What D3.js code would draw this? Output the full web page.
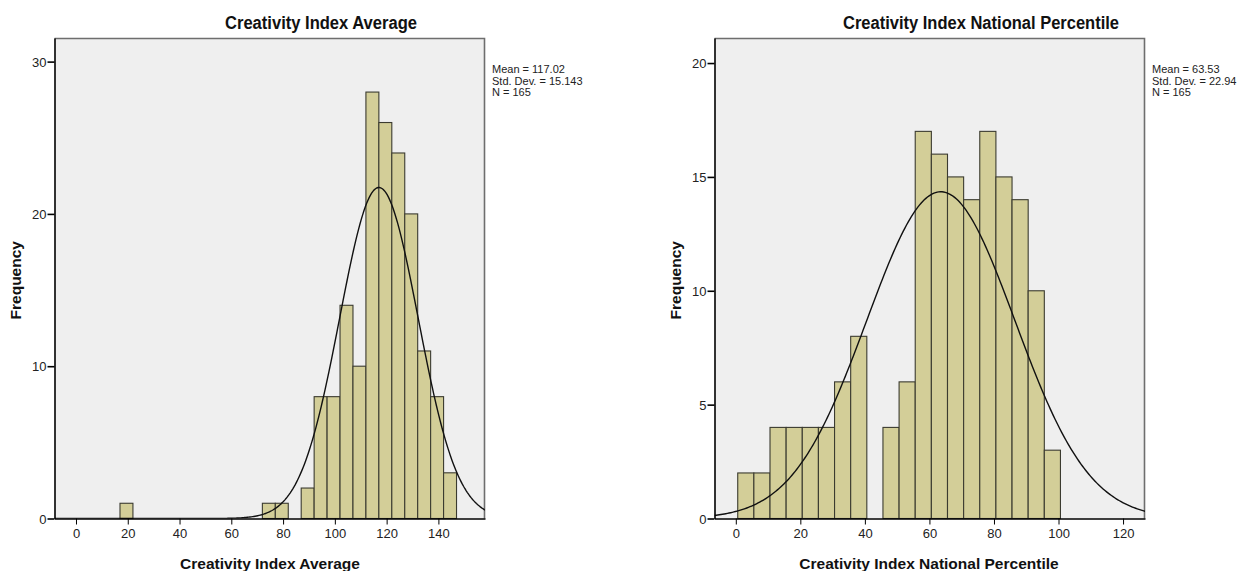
<!DOCTYPE html>
<html>
<head>
<meta charset="utf-8">
<script src="https://cdn.jsdelivr.net/npm/d3@7"></script>
<style>
  html, body { margin: 0; padding: 0; background: #fff; }
  svg { display: block; }
  .tick text { font-family: "Liberation Sans", Arial, sans-serif; font-size: 13px; fill: #222; }
  .axis path.domain { stroke: #000; }
  .axis .tick line { stroke: #000; }
  .title { font-family: "Liberation Sans", Arial, sans-serif; font-weight: bold; font-size: 18px; fill: #111; }
  .label { font-family: "Liberation Sans", Arial, sans-serif; font-weight: bold; font-size: 15.5px; fill: #111; }
  .stats { font-family: "Liberation Sans", Arial, sans-serif; font-size: 11px; fill: #222; }
</style>
</head>
<body>
<svg></svg>
<script>
// ---- data ----

// Creativity Index Average: lower edge of each bin (width 5) and its count
let avgBinLow = [17, 72, 77, 82, 87, 92, 97, 102, 107, 112, 117, 122, 127, 132, 137, 142];
let avgCounts = [1, 1, 1, 0, 2, 8, 8, 14, 10, 28, 26, 24, 20, 11, 8, 3];
let avgStats = [117.02, 15.143, 165]; // mean, sd, n
let avgXTicks = [0, 20, 40, 60, 80, 100, 120, 140];
let avgYTicks = [0, 10, 20, 30];

// Creativity Index National Percentile
let pctBinLow = [0.6, 5.6, 10.6, 15.6, 20.6, 25.6, 30.6, 35.6, 40.6, 45.6,
                 50.6, 55.6, 60.6, 65.6, 70.6, 75.6, 80.6, 85.6, 90.6, 95.6];
let pctCounts = [2, 2, 4, 4, 4, 4, 6, 8, 0, 4, 6, 17, 16, 15, 14, 17, 15, 14, 10, 3];
let pctStats = [63.53, 22.94, 165];
let pctXTicks = [0, 20, 40, 60, 80, 100, 120];
let pctYTicks = [0, 5, 10, 15, 20];

let binWidth = 5;

// ---- layout ----
let config = {
  'svg': { 'width': 1241, 'height': 571 }
};

let svg = d3.select('body').select('svg');
svg.attr('width', config.svg.width);
svg.attr('height', config.svg.height);

// one entry per panel
let panels = [
  {
    'id': 'avg',
    'title': 'Creativity Index Average',
    'xLabel': 'Creativity Index Average',
    'binLow': avgBinLow, 'counts': avgCounts, 'stats': avgStats,
    'xTicks': avgXTicks, 'yTicks': avgYTicks,
    'xDomain': [-8.3, 158.0], 'yDomain': [0, 31.55],
    'plot': { 'x': 54.5, 'y': 38, 'width': 430.5, 'height': 480.5 },
    'titleX': 321, 'titleW': 192, 'xLabelX': 270, 'yLabelX': 21
  },
  {
    'id': 'pct',
    'title': 'Creativity Index National Percentile',
    'xLabel': 'Creativity Index National Percentile',
    'binLow': pctBinLow, 'counts': pctCounts, 'stats': pctStats,
    'xTicks': pctXTicks, 'yTicks': pctYTicks,
    'xDomain': [-6.6, 126.8], 'yDomain': [0, 21.1],
    'plot': { 'x': 714.5, 'y': 38, 'width': 430.5, 'height': 480.5 },
    'titleX': 981, 'titleW': 276, 'xLabelX': 929, 'yLabelX': 681
  }
];

panels.forEach(drawHistogram);

function drawHistogram(p) {
  let scale = {};
  scale.x = d3.scaleLinear().domain(p.xDomain).range([0, p.plot.width]);
  scale.y = d3.scaleLinear().domain(p.yDomain).range([p.plot.height, 0]);

  let plot = svg.append('g');
  plot.attr('id', 'plot-' + p.id);
  plot.attr('transform', translate(p.plot.x, p.plot.y));

  // grey background and frame (top/right in grey)
  plot.append('rect')
    .attr('x', 0).attr('y', 0)
    .attr('width', p.plot.width).attr('height', p.plot.height)
    .style('fill', '#efefef');

  plot.append('path')
    .attr('d', 'M0,0.5H' + (p.plot.width - 0.5) + 'V' + p.plot.height)
    .style('fill', 'none')
    .style('stroke', '#6e6e6e')
    .style('stroke-width', 1.6);

  let clipId = 'clip-' + p.id;
  plot.append('clipPath').attr('id', clipId)
    .append('rect')
    .attr('width', p.plot.width).attr('height', p.plot.height);

  // bars
  let bins = p.binLow.map((lo, i) => ({ 'lo': lo, 'count': p.counts[i] }))
    .filter(d => d.count > 0);

  plot.selectAll('rect.bar')
    .data(bins)
    .enter()
    .append('rect')
    .attr('class', 'bar')
    .attr('x', d => scale.x(d.lo))
    .attr('y', d => scale.y(d.count))
    .attr('width', d => scale.x(d.lo + binWidth) - scale.x(d.lo))
    .attr('height', d => scale.y(0) - scale.y(d.count))
    .style('fill', '#d3ce98')
    .style('stroke', '#3b3b30')
    .style('stroke-width', 1.1);

  // normal curve from mean, sd and n shown in the legend
  let mean = p.stats[0], sd = p.stats[1], n = p.stats[2];
  let xs = d3.range(p.xDomain[0], p.xDomain[1] + 0.5, 0.5);
  let curve = xs.map(x => [x, n * binWidth / (sd * Math.sqrt(2 * Math.PI)) *
    Math.exp(-0.5 * Math.pow((x - mean) / sd, 2))]);

  plot.append('path')
    .datum(curve)
    .attr('clip-path', 'url(#' + clipId + ')')
    .attr('d', d3.line().x(d => scale.x(d[0])).y(d => scale.y(d[1])))
    .style('fill', 'none')
    .style('stroke', '#111')
    .style('stroke-width', 1.4);

  // axes
  let axis = {};
  axis.x = d3.axisBottom(scale.x).tickValues(p.xTicks).tickSize(6).tickSizeOuter(0).tickPadding(4);
  axis.y = d3.axisLeft(scale.y).tickValues(p.yTicks).tickSize(7).tickSizeOuter(0).tickPadding(1);

  let gx = plot.append('g');
  gx.attr('class', 'axis');
  gx.attr('transform', translate(0, p.plot.height));
  gx.call(axis.x);
  gx.select('.domain').style('stroke-width', 1.6);

  let gy = plot.append('g');
  gy.attr('class', 'axis');
  gy.call(axis.y);
  gy.select('.domain').style('stroke-width', 1.6);
  gy.selectAll('.tick line').style('stroke-width', 1.6);
  gy.selectAll('.tick text').attr('dy', '0.36em');

  // texts
  svg.append('text')
    .attr('class', 'title')
    .attr('x', p.titleX)
    .attr('y', 29)
    .attr('textLength', p.titleW)
    .attr('lengthAdjust', 'spacingAndGlyphs')
    .style('text-anchor', 'middle')
    .text(p.title);

  svg.append('text')
    .attr('class', 'label')
    .attr('x', p.xLabelX)
    .attr('y', 569)
    .style('text-anchor', 'middle')
    .text(p.xLabel);

  svg.append('text')
    .attr('class', 'label')
    .attr('transform', translate(p.yLabelX, p.plot.y + p.plot.height / 2 + 2) + ' rotate(-90)')
    .style('text-anchor', 'middle')
    .text('Frequency');

  let statLines = [
    'Mean = ' + mean,
    'Std. Dev. = ' + sd,
    'N = ' + n
  ];

  svg.append('g')
    .selectAll('text')
    .data(statLines)
    .enter()
    .append('text')
    .attr('class', 'stats')
    .attr('x', p.plot.x + p.plot.width + 7)
    .attr('y', (d, i) => 73 + i * 11.5)
    .text(d => d);
}

// helper method to make translating easier
function translate(x, y) {
  return 'translate(' + x + ',' + y + ')';
}
</script>
</body>
</html>
